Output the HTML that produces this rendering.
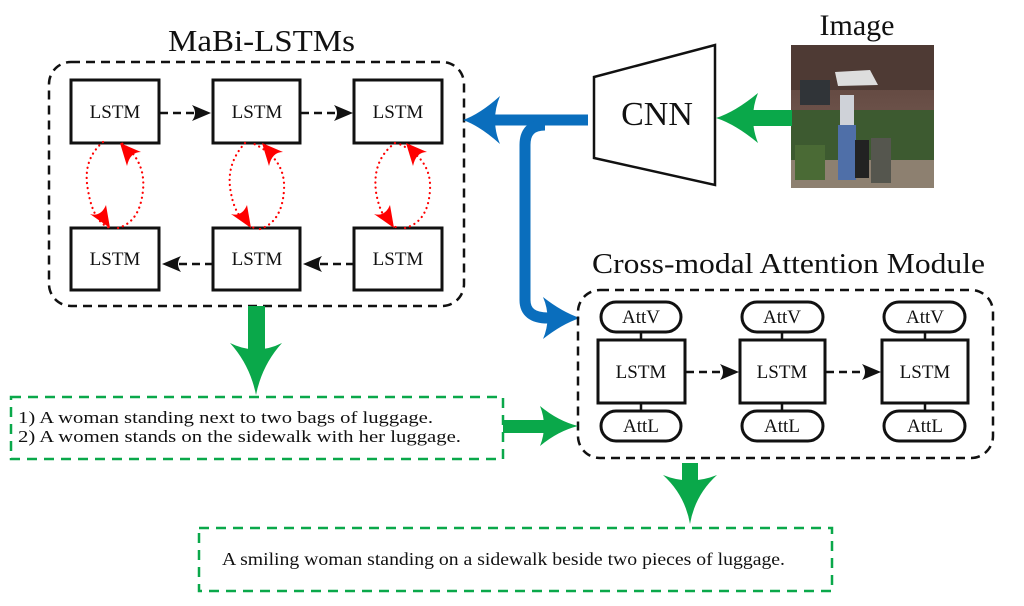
<!DOCTYPE html>
<html><head><meta charset="utf-8"><style>
html,body{margin:0;padding:0;background:#fff;width:1024px;height:606px;overflow:hidden}
svg{display:block}
text{font-family:"Liberation Serif",serif;fill:#111}
</style></head><body>
<svg width="1024" height="606" viewBox="0 0 1024 606" xmlns="http://www.w3.org/2000/svg">
<defs>
<linearGradient id="sky" x1="0" y1="0" x2="0" y2="1">
<stop offset="0" stop-color="#5a4038"/><stop offset="0.45" stop-color="#6a5048"/><stop offset="0.6" stop-color="#4a5a38"/><stop offset="1" stop-color="#7a7060"/>
</linearGradient>
</defs>

<!-- Titles -->
<text x="168" y="51" font-size="31" textLength="187" lengthAdjust="spacingAndGlyphs">MaBi-LSTMs</text>
<text x="857" y="35" font-size="30" text-anchor="middle">Image</text>
<text x="592" y="273" font-size="28" textLength="393" lengthAdjust="spacingAndGlyphs">Cross-modal Attention Module</text>

<!-- MaBi box -->
<rect x="49" y="62" width="415" height="244" rx="22" fill="none" stroke="#111" stroke-width="2.5" stroke-dasharray="9 6"/>
<g fill="#fff" stroke="#111" stroke-width="3">
<rect x="71" y="80" width="88" height="63"/><rect x="213" y="80" width="87" height="63"/><rect x="354" y="80" width="88" height="63"/>
<rect x="71" y="228" width="88" height="62"/><rect x="213" y="228" width="87" height="62"/><rect x="354" y="228" width="88" height="62"/>
</g>
<g font-size="19" text-anchor="middle">
<text x="115" y="118">LSTM</text><text x="257" y="118">LSTM</text><text x="398" y="118">LSTM</text>
<text x="115" y="265">LSTM</text><text x="257" y="265">LSTM</text><text x="398" y="265">LSTM</text>
</g>
<g stroke="#111" stroke-width="2.5" stroke-dasharray="8 5" fill="none">
<path d="M160 113 H200"/><path d="M301 113 H342"/>
<path d="M354 264 H320"/><path d="M213 264 H176"/>
</g>
<g fill="#111">
<path d="M211 113 L192 105 Q198 113 192 121 Z"/>
<path d="M353 113 L334 105 Q340 113 334 121 Z"/>
<path d="M303 264 L322 256 Q316 264 322 272 Z"/>
<path d="M162 264 L181 256 Q175 264 181 272 Z"/>
</g>
<!-- red dotted loops -->
<g stroke="#f00" stroke-width="2.2" stroke-dasharray="0.1 5" stroke-linecap="round" fill="none">
<path d="M103 142 Q82 160 88 190 Q93 222 110 228"/>
<path d="M118 228 Q140 222 143 190 Q146 160 120 142"/>
<path d="M245 143 Q225 165 231 193 Q236 222 257 229"/>
<path d="M260 229 Q282 222 284 190 Q286 158 252 143"/>
<path d="M395 143 Q372 160 376 192 Q381 222 398 228"/>
<path d="M405 228 Q428 222 430 190 Q432 158 397 143"/>
</g>
<g fill="#f00">
<path d="M120 143 L141 152 Q130 152 127 166 Z"/>
<path d="M110 228 L90 214 Q101 217 106 205 Z"/>
<path d="M262 143 L283 152 Q272 152 269 166 Z"/>
<path d="M251 228 L231 214 Q242 217 247 205 Z"/>
<path d="M406 143 L427 152 Q416 152 413 166 Z"/>
<path d="M394 228 L374 214 Q385 217 390 205 Z"/>
</g>

<!-- CNN -->
<polygon points="594,77 715,45 715,185 594,158" fill="#fff" stroke="#111" stroke-width="2.5"/>
<text x="657" y="125" font-size="34" text-anchor="middle">CNN</text>

<!-- Image -->
<rect x="791" y="45" width="143" height="143" fill="url(#sky)"/>
<rect x="791" y="45" width="143" height="45" fill="#4e3a34"/>
<polygon points="835,72 870,70 878,85 838,86" fill="#ddd"/>
<rect x="800" y="80" width="30" height="25" fill="#303438"/>
<rect x="791" y="110" width="143" height="50" fill="#3d5a30"/>
<rect x="791" y="160" width="143" height="28" fill="#8d8070"/>
<rect x="795" y="145" width="30" height="35" fill="#4a6a35"/>
<rect x="840" y="95" width="14" height="30" fill="#cfd2d8"/>
<rect x="838" y="125" width="18" height="55" fill="#4f6fa8"/>
<rect x="855" y="140" width="14" height="38" fill="#222"/>
<rect x="871" y="138" width="20" height="45" fill="#55564e"/>

<!-- green image->CNN -->
<rect x="735" y="110" width="57" height="16" fill="#0aa84a"/>
<path d="M716 118 Q735 112 758 93 Q748 118 758 143 Q735 124 716 118 Z" fill="#0aa84a"/>

<!-- Blue arrows -->
<g stroke="#0a6ebd" stroke-width="11" fill="none">
<path d="M588 120 H478"/>
<path d="M545 125 Q525 125 525 145 L525 300 Q525 318 548 318 L562 318"/>
</g>
<path d="M463 120 Q480 114 500 96 Q490 120 500 144 Q480 126 463 120 Z" fill="#0a6ebd"/>
<path d="M580 318 Q562 312 543 297 Q552 318 543 339 Q562 324 580 318 Z" fill="#0a6ebd"/>

<!-- Cross modal box -->
<rect x="578" y="290" width="415" height="168" rx="22" fill="none" stroke="#111" stroke-width="2.5" stroke-dasharray="9 6"/>
<g stroke="#111" stroke-width="2.5">
<path d="M641 332 V340 M641 403 V411 M782 332 V340 M782 403 V411 M925 332 V340 M925 403 V411"/>
</g>
<g fill="#fff" stroke="#111" stroke-width="3">
<rect x="601" y="302" width="80" height="30" rx="15"/><rect x="742" y="302" width="81" height="30" rx="15"/><rect x="884" y="302" width="81" height="30" rx="15"/>
<rect x="601" y="411" width="80" height="30" rx="15"/><rect x="742" y="411" width="81" height="30" rx="15"/><rect x="884" y="411" width="81" height="30" rx="15"/>
<rect x="598" y="340" width="87" height="63"/><rect x="740" y="340" width="85" height="63"/><rect x="882" y="340" width="86" height="63"/>
</g>
<g font-size="19" text-anchor="middle">
<text x="641" y="323">AttV</text><text x="782" y="323">AttV</text><text x="925" y="323">AttV</text>
<text x="641" y="432">AttL</text><text x="782" y="432">AttL</text><text x="925" y="432">AttL</text>
<text x="641" y="378">LSTM</text><text x="782" y="378">LSTM</text><text x="925" y="378">LSTM</text>
</g>
<g stroke="#111" stroke-width="2.5" stroke-dasharray="8 5" fill="none">
<path d="M686 372 H726"/><path d="M826 372 H868"/>
</g>
<g fill="#111">
<path d="M739 372 L720 364 Q726 372 720 380 Z"/>
<path d="M881 372 L862 364 Q868 372 862 380 Z"/>
</g>

<!-- green down arrow from MaBi -->
<rect x="248" y="306" width="17" height="46" fill="#0aa84a"/>
<path d="M256 395 Q250 365 230 343 Q256 356 282 343 Q262 365 256 395 Z" fill="#0aa84a"/>
<!-- green right arrow -->
<rect x="503" y="420" width="45" height="13" fill="#0aa84a"/>
<path d="M578 426 Q558 421 540 406 Q548 426 540 446 Q558 431 578 426 Z" fill="#0aa84a"/>
<!-- green down arrow from cross -->
<rect x="682" y="463" width="16" height="22" fill="#0aa84a"/>
<path d="M690 524 Q685 495 663 475 Q690 486 717 475 Q695 495 690 524 Z" fill="#0aa84a"/>

<!-- Green boxes -->
<rect x="11" y="397" width="492" height="62" fill="none" stroke="#0aa84a" stroke-width="2.5" stroke-dasharray="10 7"/>
<text x="18" y="423" font-size="17" textLength="415" lengthAdjust="spacingAndGlyphs">1)  A woman standing next to two bags of luggage.</text>
<text x="18" y="442" font-size="17" textLength="443" lengthAdjust="spacingAndGlyphs">2)  A women stands on the sidewalk with her luggage.</text>
<rect x="199" y="528" width="633" height="63" fill="none" stroke="#0aa84a" stroke-width="2.5" stroke-dasharray="10 7"/>
<text x="222" y="565" font-size="17.5" textLength="563" lengthAdjust="spacingAndGlyphs">A smiling woman standing on a sidewalk beside two pieces of luggage.</text>
</svg>
</body></html>
